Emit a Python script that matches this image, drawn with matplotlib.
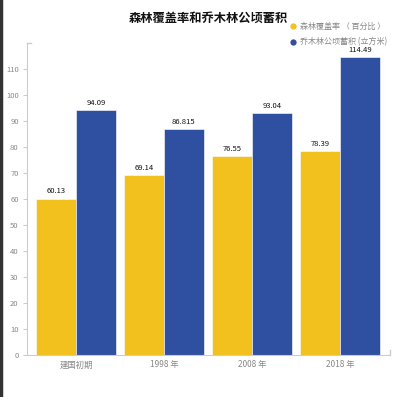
import matplotlib.pyplot as plt
from matplotlib.lines import Line2D
import numpy as np

plt.rcParams['font.family'] = ['Noto Sans CJK SC', 'DejaVu Sans']

categories = ['建国初期', '1998 年', '2008 年', '2018 年']
coverage = [60.13, 69.14, 76.55, 78.39]
volume = [94.09, 86.815, 93.04, 114.49]
coverage_labels = ['60.13', '69.14', '76.55', '78.39']
volume_labels = ['94.09', '86.815', '93.04', '114.49']
series_names = ['森林覆盖率 （ 百分比 ）', '乔木林公顷蓄积 (立方米)']
yticks = list(range(0, 111, 10))

yellow = '#F2C11D'
blue = '#2F4FA0'
grey = '#888888'
axis_grey = '#cccccc'

fig = plt.figure(figsize=(4.0, 3.97), dpi=100)
ax = fig.add_axes((0.0675, 0.106, 0.9075, 0.786))

x = np.arange(len(categories))
w = 0.45
ax.bar(x - w / 2, coverage, w, color=yellow, edgecolor='white', linewidth=0.4)
ax.bar(x + w / 2, volume, w, color=blue, edgecolor='white', linewidth=0.4)

for xi, v, t in zip(x, coverage, coverage_labels):
    ax.text(xi - w / 2, v + 1.2, t, ha='center', va='bottom', fontsize=5.5, color='#111111')
for xi, v, t in zip(x, volume, volume_labels):
    ax.text(xi + w / 2, v + 1.2, t, ha='center', va='bottom', fontsize=5.5, color='#111111')

ax.set_xlim(-0.557, 3.568)
ax.set_ylim(0, 120)
ax.set_yticks(yticks)
ax.set_yticklabels([str(t) for t in yticks], fontsize=5.5, color=grey)
ax.set_xticks(x)
ax.set_xticklabels(categories, fontsize=6, color=grey)
ax.tick_params(axis='x', length=0, pad=4)
ax.tick_params(axis='y', length=3, color=axis_grey, pad=3)

ax.spines['right'].set_color('none')
ax.spines['top'].set_color('none')
ax.spines['left'].set_color(axis_grey)
ax.spines['bottom'].set_color(axis_grey)

# small end caps on the axes
ax.plot([0, 0.012], [1, 1], transform=ax.transAxes, color=axis_grey, lw=1, clip_on=False)
ax.plot([1, 1], [0, 0.015], transform=ax.transAxes, color=axis_grey, lw=1, clip_on=False)

fig.text(0.52, 0.955, '森林覆盖率和乔木林公顷蓄积', ha='center', va='center',
         fontsize=8.8, fontweight='bold', color='#111111')

handles = [Line2D([], [], ls='none', marker='o', markersize=3.5, color=c) for c in (yellow, blue)]
ax.legend(handles, series_names, loc='upper left', bbox_to_anchor=(0.716, 1.079), frameon=False,
          fontsize=5.8, labelcolor=grey, handlelength=0.6,
          handletextpad=0.5, labelspacing=0.75, borderpad=0)

# dark left border of the image
fig.add_artist(plt.Line2D([0.003, 0.003], [0, 1], color='#333333', lw=2.5, transform=fig.transFigure))

fig.savefig('out.png', dpi=100)
